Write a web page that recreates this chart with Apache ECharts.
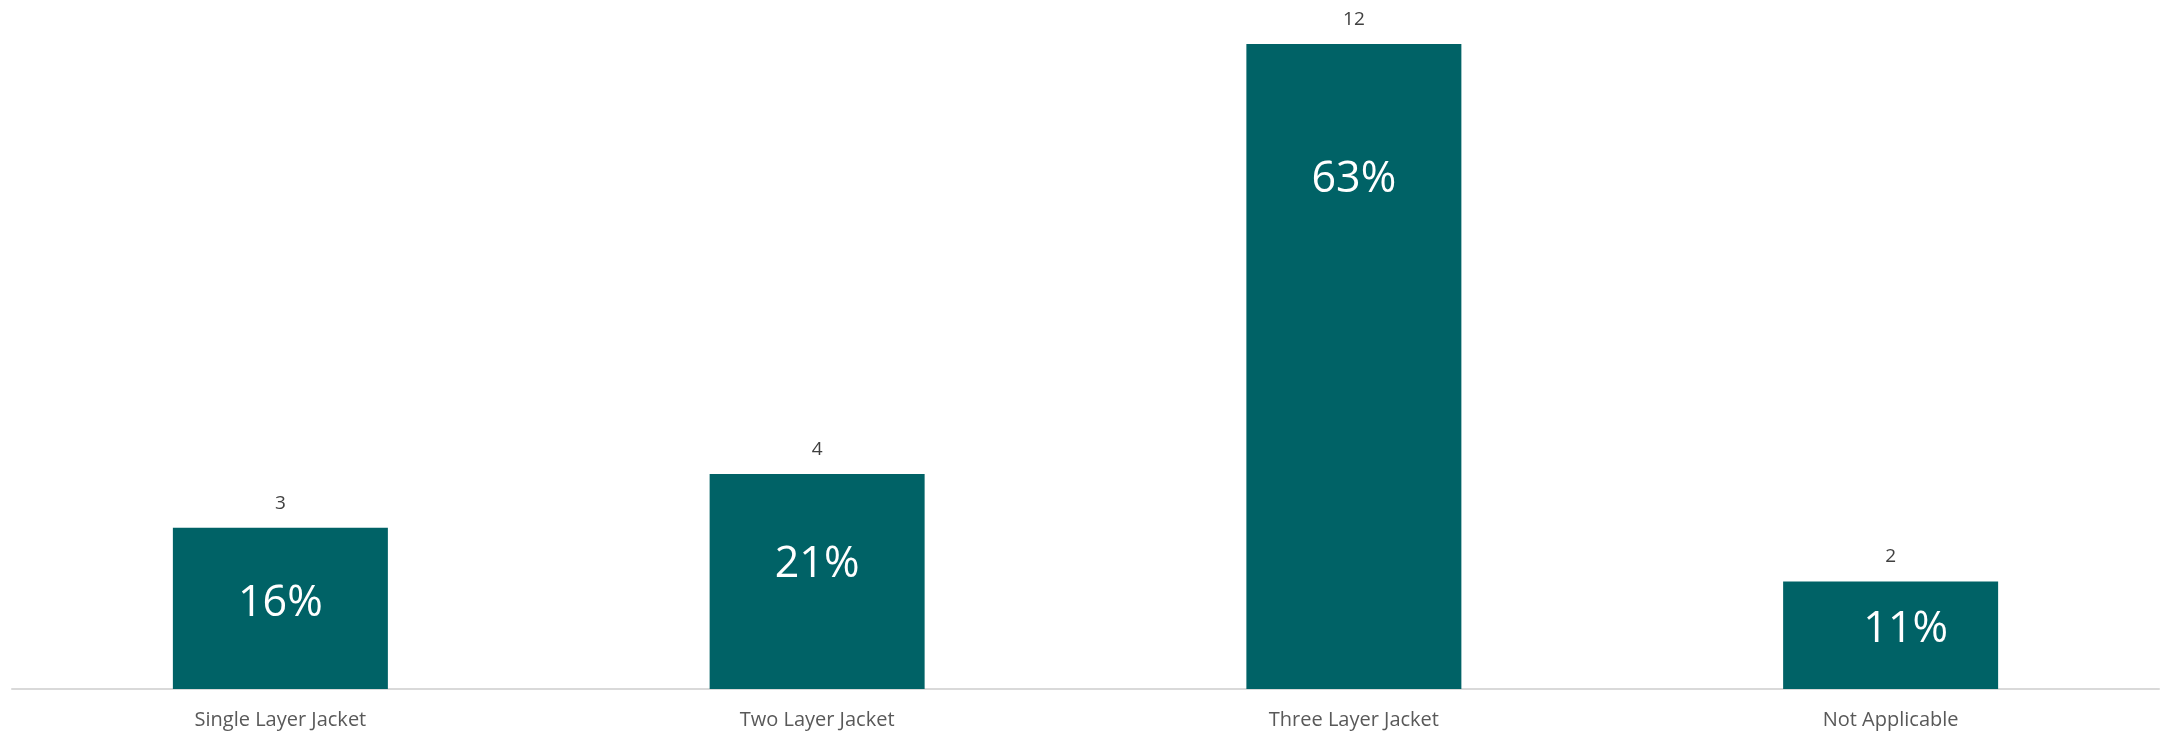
<!DOCTYPE html>
<html>
<head>
<meta charset="utf-8">
<script src="https://cdn.jsdelivr.net/npm/echarts@6/dist/echarts.min.js"></script>
<style>
  html, body { margin: 0; padding: 0; background: #fff; }
  #chart { width: 2163px; height: 733px; }
</style>
</head>
<body>
<div id="chart"></div>
<script>
// chart data
const categories = ['Single Layer Jacket', 'Two Layer Jacket', 'Three Layer Jacket', 'Not Applicable'];
const counts = [3, 4, 12, 2];
const percents = ['16%', '21%', '63%', '11%'];

// where the percent label sits inside each bar (fraction of bar box)
const pctLabelPos = [['50%', '47%'], ['50%', '42%'], ['50%', '21%'], ['57%', '45%']];

var chart = echarts.init(document.getElementById('chart'));

chart.setOption({
  animation: false,
  textStyle: { fontFamily: 'Open Sans' },
  grid: { left: 12, right: 4, top: 44, bottom: 44 },
  xAxis: {
    type: 'category',
    data: categories,
    axisTick: { show: false },
    axisLine: { lineStyle: { color: '#d9d9d9', width: 2 } },
    axisLabel: { color: '#595959', fontSize: 20, margin: 21 }
  },
  yAxis: {
    type: 'value',
    min: 0,
    max: 12,
    show: false
  },
  series: [
    {
      type: 'bar',
      barWidth: 215,
      itemStyle: { color: '#006266' },
      label: {
        show: true,
        position: 'top',
        distance: 15,
        color: '#404040',
        fontSize: 19
      },
      data: counts
    },
    {
      // same bars again, just for the percent text inside
      type: 'bar',
      barWidth: 215,
      barGap: '-100%',
      itemStyle: { color: 'rgba(0,0,0,0)' },
      silent: true,
      data: counts.map((v, i) => ({
        value: v,
        label: {
          show: true,
          position: pctLabelPos[i],
          align: 'center',
          verticalAlign: 'middle',
          formatter: percents[i],
          color: '#ffffff',
          fontSize: 43
        }
      }))
    }
  ]
});
</script>
</body>
</html>
